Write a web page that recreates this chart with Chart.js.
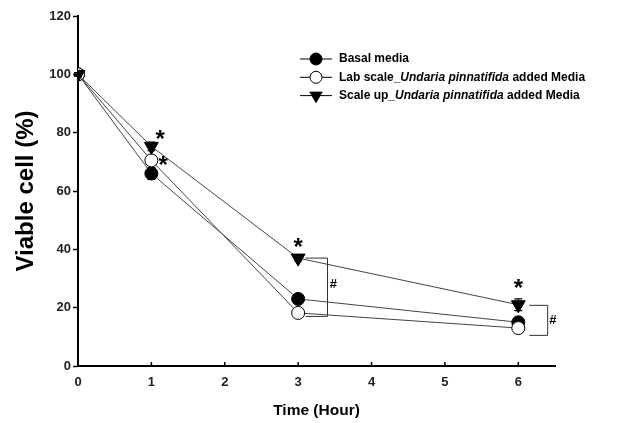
<!DOCTYPE html>
<html>
<head>
<meta charset="utf-8">
<script src="https://cdn.jsdelivr.net/npm/chart.js@4.4.1/dist/chart.umd.min.js"></script>
<style>
  html, body { margin: 0; padding: 0; background: #fff; }
  canvas { display: block; }
</style>
</head>
<body>
<canvas id="viableChart" width="625" height="423"></canvas>
<script>
const timeHours = [0, 1, 3, 6];
const basalMedia = [100, 66, 23, 15];
const labScale = [100, 70.5, 18.2, 13];
const scaleUp = [100, 75.3, 37, 21];
const basalErr = [0.6, 2, 1.5, 1];
const labErr = [0.5, 1.2, 1.5, 1];
const scaleErr = [0.5, 1.5, 1, 2];
const xTicks = [0, 1, 2, 3, 4, 5, 6];
const yTicks = [0, 20, 40, 60, 80, 100, 120];
const seriesNames = [
  "Basal media",
  "Lab scale_Undaria pinnatifida added Media",
  "Scale up_Undaria pinnatifida added Media"
];
const italicTerm = "Undaria pinnatifida";

// significance marks, in data units
const starMarks = [[1.12, 79.5], [1.16, 70.5], [3, 42.5], [6, 28.5]];
const hashMarks = [[3.48, 28], [6.47, 15.5]];
const brackets = [
  { x0: 3.1, x1: 3.4, top: 37, bottom: 17 },
  { x0: 6.15, x1: 6.4, top: 20.8, bottom: 10.5 }
];

const FONT = '"Liberation Sans", Arial, sans-serif';

function toPoints(vals) {
  return vals.map((v, i) => ({ x: timeHours[i], y: v }));
}

const errorBars = {
  id: "errorBars",
  beforeDatasetsDraw(chart) {
    const ctx = chart.ctx;
    const x = chart.scales.x, y = chart.scales.y;
    ctx.save();
    ctx.strokeStyle = "#000";
    ctx.lineWidth = 1.2;
    chart.data.datasets.forEach(ds => {
      ds.errors.forEach((e, i) => {
        const px = x.getPixelForValue(timeHours[i]);
        const hi = y.getPixelForValue(ds.data[i].y + e);
        const lo = y.getPixelForValue(ds.data[i].y - e);
        ctx.beginPath();
        ctx.moveTo(px, hi); ctx.lineTo(px, lo);
        ctx.moveTo(px - 4, hi); ctx.lineTo(px + 4, hi);
        ctx.moveTo(px - 4, lo); ctx.lineTo(px + 4, lo);
        ctx.stroke();
      });
    });
    ctx.restore();
  }
};

function drawMarker(ctx, style, cx, cy, r, fill) {
  ctx.beginPath();
  if (style === "triangle") {
    // pointing down
    ctx.moveTo(cx - r * 0.87, cy - r * 0.5);
    ctx.lineTo(cx + r * 0.87, cy - r * 0.5);
    ctx.lineTo(cx, cy + r);
    ctx.closePath();
  } else {
    ctx.arc(cx, cy, r, 0, Math.PI * 2);
  }
  ctx.fillStyle = fill;
  ctx.fill();
  ctx.lineWidth = 1;
  ctx.strokeStyle = "#000";
  ctx.stroke();
}

const extras = {
  id: "extras",
  afterDraw(chart) {
    const ctx = chart.ctx;
    const x = chart.scales.x, y = chart.scales.y;
    const area = chart.chartArea;
    ctx.save();

    // inward x ticks
    ctx.strokeStyle = "#000";
    ctx.lineWidth = 1.5;
    xTicks.forEach(t => {
      if (t === 0) return;
      const px = x.getPixelForValue(t);
      ctx.beginPath();
      ctx.moveTo(px, area.bottom);
      ctx.lineTo(px, area.bottom - 4);
      ctx.stroke();
    });

    // brackets
    ctx.lineWidth = 1;
    ctx.strokeStyle = "#333";
    brackets.forEach(b => {
      const x0 = x.getPixelForValue(b.x0), x1 = x.getPixelForValue(b.x1);
      const yt = y.getPixelForValue(b.top), yb = y.getPixelForValue(b.bottom);
      ctx.beginPath();
      ctx.moveTo(x0, yt); ctx.lineTo(x1, yt); ctx.lineTo(x1, yb); ctx.lineTo(x0, yb);
      ctx.stroke();
    });

    ctx.fillStyle = "#000";
    ctx.textAlign = "center";
    ctx.textBaseline = "middle";
    ctx.font = "bold 24px " + FONT;
    starMarks.forEach(s => {
      ctx.fillText("*", x.getPixelForValue(s[0]), y.getPixelForValue(s[1]) + 6);
    });
    ctx.font = "bold 13px " + FONT;
    hashMarks.forEach(h => {
      ctx.fillText("#", x.getPixelForValue(h[0]), y.getPixelForValue(h[1]));
    });

    // legend
    const lx = 300, lw = 32, tx = 339;
    const rows = [59, 77.3, 95.6];
    chart.data.datasets.forEach((ds, i) => {
      const ry = rows[i];
      ctx.strokeStyle = "#000";
      ctx.lineWidth = 1;
      ctx.beginPath();
      ctx.moveTo(lx, ry); ctx.lineTo(lx + lw, ry);
      ctx.stroke();
      drawMarker(ctx, ds.pointStyle, lx + lw / 2, ry, ds.pointStyle === "triangle" ? 7 : 6, ds.pointBackgroundColor);
      const parts = seriesNames[i].split(italicTerm);
      let cx = tx;
      ctx.fillStyle = "#000";
      ctx.textAlign = "left";
      ctx.textBaseline = "middle";
      parts.forEach((p, k) => {
        ctx.font = "bold 12px " + FONT;
        ctx.fillText(p, cx, ry);
        cx += ctx.measureText(p).width;
        if (k < parts.length - 1) {
          ctx.font = "italic bold 12px " + FONT;
          ctx.fillText(italicTerm, cx, ry);
          cx += ctx.measureText(italicTerm).width;
        }
      });
    });
    ctx.restore();
  }
};

const lineStyle = {
  borderColor: "#444",
  borderWidth: 1,
  pointBorderColor: "#000",
  pointBorderWidth: 1,
  tension: 0
};

new Chart(document.getElementById("viableChart"), {
  type: "line",
  data: {
    datasets: [
      Object.assign({}, lineStyle, {
        label: seriesNames[0], data: toPoints(basalMedia), errors: basalErr,
        pointStyle: "circle", pointRadius: 6.5, pointBackgroundColor: "#000", order: 2
      }),
      Object.assign({}, lineStyle, {
        label: seriesNames[1], data: toPoints(labScale), errors: labErr,
        pointStyle: "circle", pointRadius: 6.5, pointBackgroundColor: "#fff", order: 1
      }),
      Object.assign({}, lineStyle, {
        label: seriesNames[2], data: toPoints(scaleUp), errors: scaleErr,
        pointStyle: "triangle", pointRotation: 180, pointRadius: 8, pointBackgroundColor: "#000", order: 0
      })
    ]
  },
  options: {
    responsive: false,
    animation: false,
    layout: { padding: { top: 16, right: 70, left: 0, bottom: 0 } },
    plugins: { legend: { display: false }, tooltip: { enabled: false } },
    scales: {
      x: {
        type: "linear",
        min: 0,
        max: 6.5,
        afterBuildTicks: s => { s.ticks = xTicks.map(v => ({ value: v })); },
        afterFit: s => { s.height = 57; },
        grid: { drawOnChartArea: false, drawTicks: false },
        border: { color: "#000", width: 2 },
        ticks: { color: "#222", padding: 9, font: { family: FONT, size: 13, weight: "bold" } },
        title: { display: true, text: "Time (Hour)", color: "#000", padding: { bottom: 3 },
                 font: { family: FONT, size: 15.5, weight: "bold" } }
      },
      y: {
        min: 0,
        max: 120,
        afterBuildTicks: s => { s.ticks = yTicks.map(v => ({ value: v })); },
        afterFit: s => { s.width = 78; },
        grid: { drawOnChartArea: false, drawTicks: true, tickLength: 5, tickColor: "#000", tickWidth: 1.5 },
        border: { color: "#000", width: 2 },
        ticks: { color: "#222", padding: 2, font: { family: FONT, size: 13, weight: "bold" } },
        title: { display: true, text: "Viable cell (%)", color: "#000", padding: { top: 12 },
                 font: { family: FONT, size: 24, weight: "bold" } }
      }
    }
  },
  plugins: [errorBars, extras]
});
</script>
</body>
</html>
